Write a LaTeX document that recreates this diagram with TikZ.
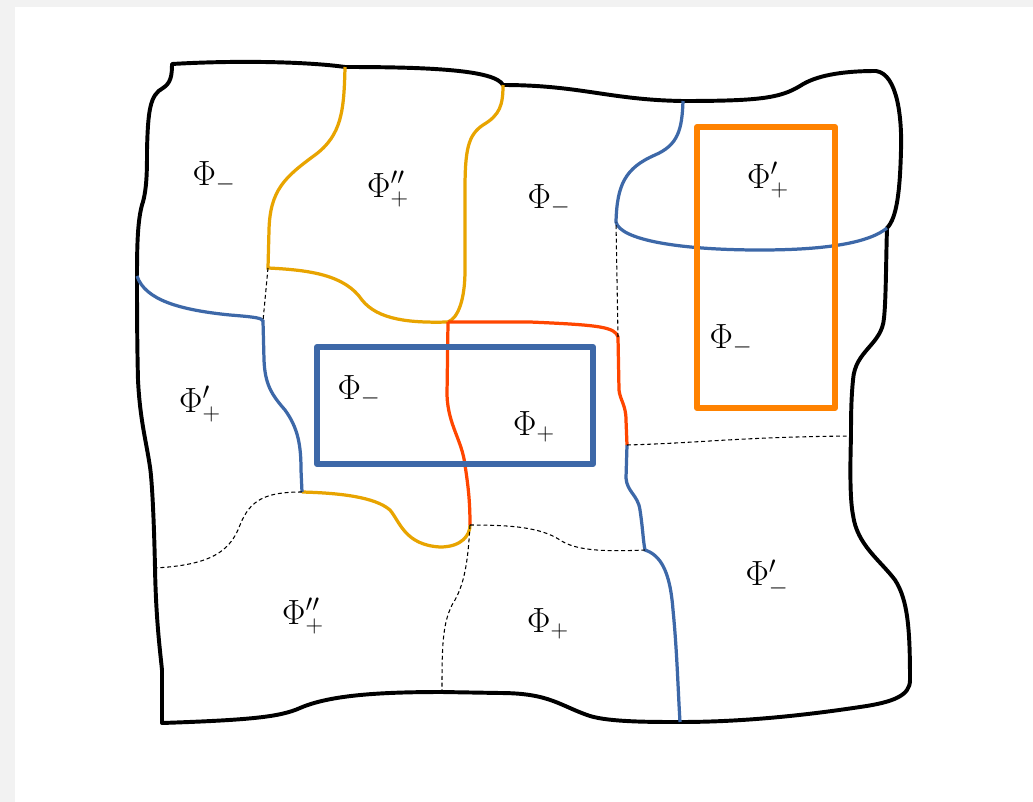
\documentclass[tikz,border=0pt]{standalone}
\usepackage{amsmath,amssymb}
\usepackage{xcolor}
\usepackage{tikz}
\usetikzlibrary{calc}

\definecolor{pagegray}{HTML}{F2F2F2}
\definecolor{wallgold}{HTML}{E8A400}
\definecolor{wallblue}{HTML}{3D68A8}
\definecolor{wallred}{HTML}{FF4600}
\definecolor{boxorange}{HTML}{FF8200}

\begin{document}
\begin{tikzpicture}[x=0.025cm, y=-0.025cm,
  rim/.style={line width=2.8pt, black, line join=round},
  goldwall/.style={line width=2.3pt, wallgold},
  bluewall/.style={line width=2.3pt, wallblue},
  redwall/.style={line width=2.3pt, wallred},
  seam/.style={line width=0.75pt, dash pattern=on 2.8pt off 2pt},
  frame/.style={line width=4.4pt, line join=round},
  lbl/.style={font=\fontsize{24}{28}\selectfont, inner sep=0pt}]
\useasboundingbox (0,0) rectangle (1033,802);
\fill[pagegray] (0,0) rectangle (1033,802);
\fill[white] (15,7) rectangle (1033,802);

% junction points on the rim
\coordinate (tA) at (345,67);
\coordinate (tB) at (503,85);
\coordinate (tC) at (683,101);
\coordinate (lA) at (137,276);
\coordinate (lB) at (155,568);
\coordinate (rA) at (887,228);
\coordinate (rB) at (851,436);
\coordinate (bA) at (442,692);
\coordinate (bB) at (680,722);
% junction points inside
\coordinate (j1) at (268,268);
\coordinate (j2) at (263,321);
\coordinate (j3) at (448,322);
\coordinate (j4) at (618,337);
\coordinate (j5) at (616,222);
\coordinate (j6) at (627,445);
\coordinate (j7) at (302,492);
\coordinate (j8) at (470,525);
\coordinate (j9) at (645,550);

% outer rim
\draw[rim] (172,64) .. controls (240,60) and (310,62) .. (tA)
  .. controls (430,67) and (495,70) .. (tB)
  .. controls (580,85) and (610,100) .. (tC)
  .. controls (760,101) and (780,98) .. (800,86)
  .. controls (815,76) and (840,71) .. (876,71)
  .. controls (898,74) and (902,120) .. (901,150)
  .. controls (900,190) and (897,218) .. (rA)
  .. controls (886,260) and (886,300) .. (884,318)
  .. controls (882,345) and (855,350) .. (853,380)
  .. controls (851,400) and (851,420) .. (rB)
  .. controls (850,470) and (850,500) .. (853,515)
  .. controls (857,545) and (880,560) .. (895,580)
  .. controls (908,600) and (910,630) .. (910,680)
  .. controls (910,695) and (895,702) .. (860,707)
  .. controls (800,716) and (740,722) .. (bB)
  .. controls (650,722) and (610,722) .. (590,716)
  .. controls (560,706) and (550,693) .. (500,693) -- (bA)
  .. controls (380,692) and (330,695) .. (300,708)
  .. controls (280,717) and (250,720) .. (162,723) -- (162,670)
  .. controls (160,650) and (156,620) .. (lB)
  .. controls (154,520) and (152,480) .. (150,467)
  .. controls (146,440) and (140,420) .. (138,380)
  .. controls (137,340) and (137,300) .. (lA)
  .. controls (137,240) and (138,220) .. (142,205)
  .. controls (147,190) and (147,170) .. (147,150)
  .. controls (148,110) and (150,95) .. (163,88)
  .. controls (171,83) and (172,75) .. (172,64) -- cycle;

% gold walls
\draw[goldwall] (tA) .. controls (344,110) and (342,135) .. (315,155)
  .. controls (285,177) and (270,190) .. (269,230) -- (j1)
  .. controls (310,270) and (345,275) .. (362,300)
  .. controls (378,320) and (410,323) .. (j3);
\draw[goldwall] (tB) .. controls (503,105) and (500,115) .. (483,125)
  .. controls (468,135) and (465,150) .. (465,190) -- (465,270)
  .. controls (465,300) and (458,318) .. (j3);
\draw[goldwall] (j7) .. controls (340,493) and (375,497) .. (390,510)
  .. controls (400,522) and (405,545) .. (440,547)
  .. controls (462,547) and (470,535) .. (j8);

% blue walls
\draw[bluewall] (lA) .. controls (145,300) and (180,310) .. (230,315)
  .. controls (255,317) and (262,318) .. (j2) -- (264,360)
  .. controls (265,385) and (272,395) .. (285,410)
  .. controls (298,428) and (301,445) .. (301,470) -- (j7);
\draw[bluewall] (tC) .. controls (682,130) and (678,145) .. (655,155)
  .. controls (625,168) and (617,185) .. (j5)
  .. controls (620,240) and (680,250) .. (760,250)
  .. controls (830,250) and (870,242) .. (rA);
\draw[bluewall] (j6) -- (626,478) .. controls (627,492) and (638,495) .. (640,510)
  .. controls (643,530) and (643,540) .. (j9)
  .. controls (660,555) and (670,570) .. (673,610)
  .. controls (677,650) and (678,690) .. (bB);

% red walls
\draw[redwall] (j3) -- (530,322) .. controls (600,325) and (615,327) .. (j4)
  -- (619,390) .. controls (620,400) and (626,405) .. (626,420) -- (j6);
\draw[redwall] (j3) -- (447,395) .. controls (448,425) and (462,440) .. (465,465)
  .. controls (468,485) and (470,500) .. (j8);

% dashed seams
\draw[seam] (j1) -- (j2);
\draw[seam] (j4) -- (j5);
\draw[seam] (j6) .. controls (700,443) and (740,437) .. (rB);
\draw[seam] (j7) .. controls (265,492) and (250,500) .. (240,525)
  .. controls (230,552) and (210,565) .. (lB);
\draw[seam] (j8) .. controls (510,525) and (540,527) .. (560,540)
  .. controls (575,550) and (600,552) .. (j9);
\draw[seam] (j8) .. controls (468,560) and (465,585) .. (452,605)
  .. controls (442,625) and (442,650) .. (bA);

% frames on top
\draw[frame, wallblue] (317,347) rectangle (593,464);
\draw[frame, boxorange] (697,127) rectangle (835,408);

% labels
\node[lbl] (phiTL) at (214,177) {$\Phi_-$};
\node[lbl] (phiTC) at (388,189) {$\Phi''_+$};
\node[lbl] (phiTM) at (549,200) {$\Phi_-$};
\node[lbl] (phiTR) at (768,180) {$\Phi'_+$};
\node[lbl] (phiOR) at (731,340) {$\Phi_-$};
\node[lbl] (phiML) at (200,404) {$\Phi'_+$};
\node[lbl] (phiBL) at (359,391) {$\Phi_-$};
\node[lbl] (phiBR) at (534,427) {$\Phi_+$};
\node[lbl] (phiLL) at (303,616) {$\Phi''_+$};
\node[lbl] (phiLC) at (548,624) {$\Phi_+$};
\node[lbl] (phiLR) at (767,578) {$\Phi'_-$};
\end{tikzpicture}
\end{document}
